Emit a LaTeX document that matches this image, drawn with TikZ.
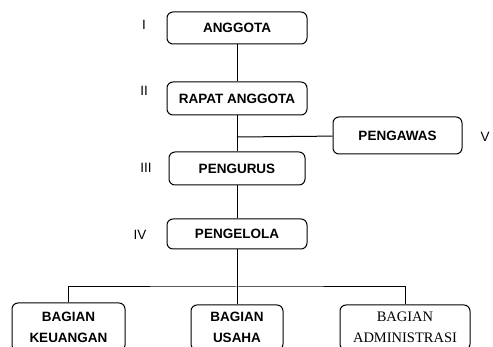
\documentclass[tikz,border=0pt]{standalone}
\usepackage{fontspec}
\setmainfont{Liberation Sans}
\newfontfamily\serifrm{Liberation Serif}
\usepackage{tikz}

\begin{document}
\begin{tikzpicture}
  [x=1pt,y=-1pt,line width=1pt,
   box/.style={draw,rounded corners=6pt,inner sep=0pt,align=center,
     font=\fontsize{13.5}{21}\selectfont\bfseries},
   lvl/.style={inner sep=0pt,font=\fontsize{13.5}{14}\selectfont}]
  \useasboundingbox (0,0) rectangle (493,347);
  \begin{scope}
  \clip (0,0) rectangle (493,347);
  \node[box,minimum width=140pt,minimum height=32pt] (n1) at (237,28) {ANGGOTA};
  \node[box,minimum width=140pt,minimum height=33pt] (n2) at (237,98.5) {RAPAT ANGGOTA};
  \node[box,minimum width=136pt,minimum height=33pt] (n3) at (237,168.5) {PENGURUS};
  \node[box,minimum width=140pt,minimum height=30pt] (n4) at (237,234) {PENGELOLA};
  \node[box,minimum width=129pt,minimum height=37pt] (n5) at (397.5,135.5) {PENGAWAS};
  \node[box,minimum width=113pt,minimum height=48pt] (n6) at (68.5,327) {BAGIAN\\KEUANGAN};
  \node[box,minimum width=92pt,minimum height=45pt] (n7) at (237,327.5) {BAGIAN\\USAHA};
  \node[box,minimum width=130pt,minimum height=45pt,
    font=\fontsize{14.5}{21}\selectfont\serifrm] (n8) at (405,327.5) {BAGIAN\\ADMINISTRASI};

  \node[lvl] (l1) at (144,25) {I};
  \node[lvl] (l2) at (144,91) {II};
  \node[lvl] (l3) at (146,168) {III};
  \node[lvl] (l4) at (140,235) {IV};
  \node[lvl] (l5) at (485,137) {V};

  \coordinate (c1) at (237,137);
  \coordinate (c2) at (237,287);

  \draw (n1) -- (n2);
  \draw (n2) -- (n3);
  \draw (n3) -- (n4);
  \draw (c1) -- (n5);
  \draw (n4) -- (c2);
  \draw (c2) -- (n7);
  \draw (n6.north) |- (c2) -| (n8.north);
  \end{scope}
\end{tikzpicture}
\end{document}
